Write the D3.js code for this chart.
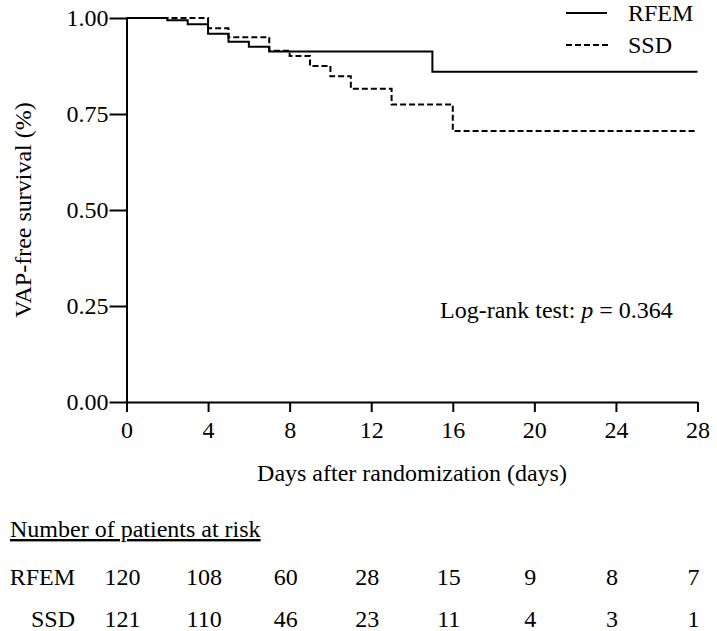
<!DOCTYPE html>
<html>
<head>
<meta charset="utf-8">
<script src="https://cdn.jsdelivr.net/npm/d3@7/dist/d3.min.js"></script>
<style>
  html, body { margin: 0; padding: 0; background: #fff; }
  svg text { font-family: "Liberation Serif", "Times New Roman", serif; fill: #000; }
</style>
</head>
<body>
<svg id="chart" width="717" height="631"></svg>
<script>
// ---- data ----
const seriesNames = ["RFEM", "SSD"];
const rfemDays = [0, 2, 3, 4, 5, 6, 7, 15, 28];
const rfemSurv = [1.0, 0.994, 0.984, 0.959, 0.938, 0.925, 0.913, 0.860, 0.860];
const ssdDays = [0, 4, 5, 7, 8, 9, 10, 11, 13, 16, 28];
const ssdSurv = [1.0, 0.973, 0.950, 0.915, 0.901, 0.875, 0.848, 0.816, 0.775, 0.706, 0.706];
const xTicks = [0, 4, 8, 12, 16, 20, 24, 28];
const yTicks = [0, 0.25, 0.5, 0.75, 1.0];
const rfemAtRisk = [120, 108, 60, 28, 15, 9, 8, 7];
const ssdAtRisk = [121, 110, 46, 23, 11, 4, 3, 1];
const xLabel = "Days after randomization (days)";
const yLabel = "VAP-free survival (%)";
const riskTitle = "Number of patients at risk";

// ---- layout ----
const svg = d3.select("#chart");
const FS = 24;
const x = d3.scaleLinear().domain([0, 28]).range([126.5, 697.5]);
const y = d3.scaleLinear().domain([0, 1]).range([402, 18]);

// axes
const xAxis = d3.axisBottom(x).tickValues(xTicks).tickSize(10).tickSizeOuter(0).tickPadding(9)
  .tickFormat(d3.format("d"));
const yAxis = d3.axisLeft(y).tickValues(yTicks).tickSize(17).tickSizeOuter(0).tickPadding(1)
  .tickFormat(d3.format(".2f"));

const gx = svg.append("g").attr("transform", `translate(0,${y(0)})`).call(xAxis);
const gy = svg.append("g").attr("transform", `translate(${x(0)},0)`).call(yAxis);
[gx, gy].forEach(g => {
  g.selectAll("path.domain").attr("stroke", "#000").attr("stroke-width", 2);
  g.selectAll(".tick line").attr("stroke", "#000").attr("stroke-width", 2);
  g.selectAll(".tick text").attr("font-family", "Liberation Serif").attr("font-size", FS).attr("fill", "#000");
});

// curves
const line = d3.line().x(d => x(d[0])).y(d => y(d[1])).curve(d3.curveStepAfter);
const rfemPts = rfemDays.map((d, i) => [d, rfemSurv[i]]);
const ssdPts = ssdDays.map((d, i) => [d, ssdSurv[i]]);
svg.append("path").datum(ssdPts).attr("d", line).attr("fill", "none")
  .attr("stroke", "#000").attr("stroke-width", 2).attr("stroke-dasharray", "6,3");
svg.append("path").datum(rfemPts).attr("d", line).attr("fill", "none")
  .attr("stroke", "#000").attr("stroke-width", 2);

// legend
const legend = svg.append("g");
legend.append("line").attr("x1", 566).attr("x2", 607).attr("y1", 13).attr("y2", 13)
  .attr("stroke", "#000").attr("stroke-width", 2);
legend.append("line").attr("x1", 566).attr("x2", 608).attr("y1", 45).attr("y2", 45)
  .attr("stroke", "#000").attr("stroke-width", 2).attr("stroke-dasharray", "6,3");
legend.append("text").attr("x", 628).attr("y", 21).attr("font-size", FS).text(seriesNames[0]);
legend.append("text").attr("x", 628).attr("y", 53).attr("font-size", FS).text(seriesNames[1]);

// annotation
const ann = svg.append("text").attr("x", 440).attr("y", 318).attr("font-size", FS);
ann.append("tspan").text("Log-rank test: ");
ann.append("tspan").attr("font-style", "italic").text("p");
ann.append("tspan").text(" = 0.364");

// axis titles
svg.append("text").attr("x", (x(0) + x(28)) / 2).attr("y", 481).attr("text-anchor", "middle")
  .attr("font-size", FS).text(xLabel);
svg.append("text").attr("transform", `translate(31,${(y(0) + y(1)) / 2}) rotate(-90)`)
  .attr("text-anchor", "middle").attr("font-size", FS).text(yLabel);

// risk table
svg.append("text").attr("x", 10).attr("y", 537).attr("font-size", FS)
  .attr("text-decoration", "underline").text(riskTitle);
const rows = [[seriesNames[0], rfemAtRisk, 585], [seriesNames[1], ssdAtRisk, 627]];
rows.forEach(([name, vals, yy]) => {
  svg.append("text").attr("x", 75).attr("y", yy).attr("text-anchor", "end").attr("font-size", FS).text(name);
  svg.append("g").selectAll("text").data(vals).join("text")
    .attr("x", (d, i) => x(xTicks[i]) - 4).attr("y", yy).attr("text-anchor", "middle")
    .attr("font-size", FS).text(d => d);
});
</script>
</body>
</html>
